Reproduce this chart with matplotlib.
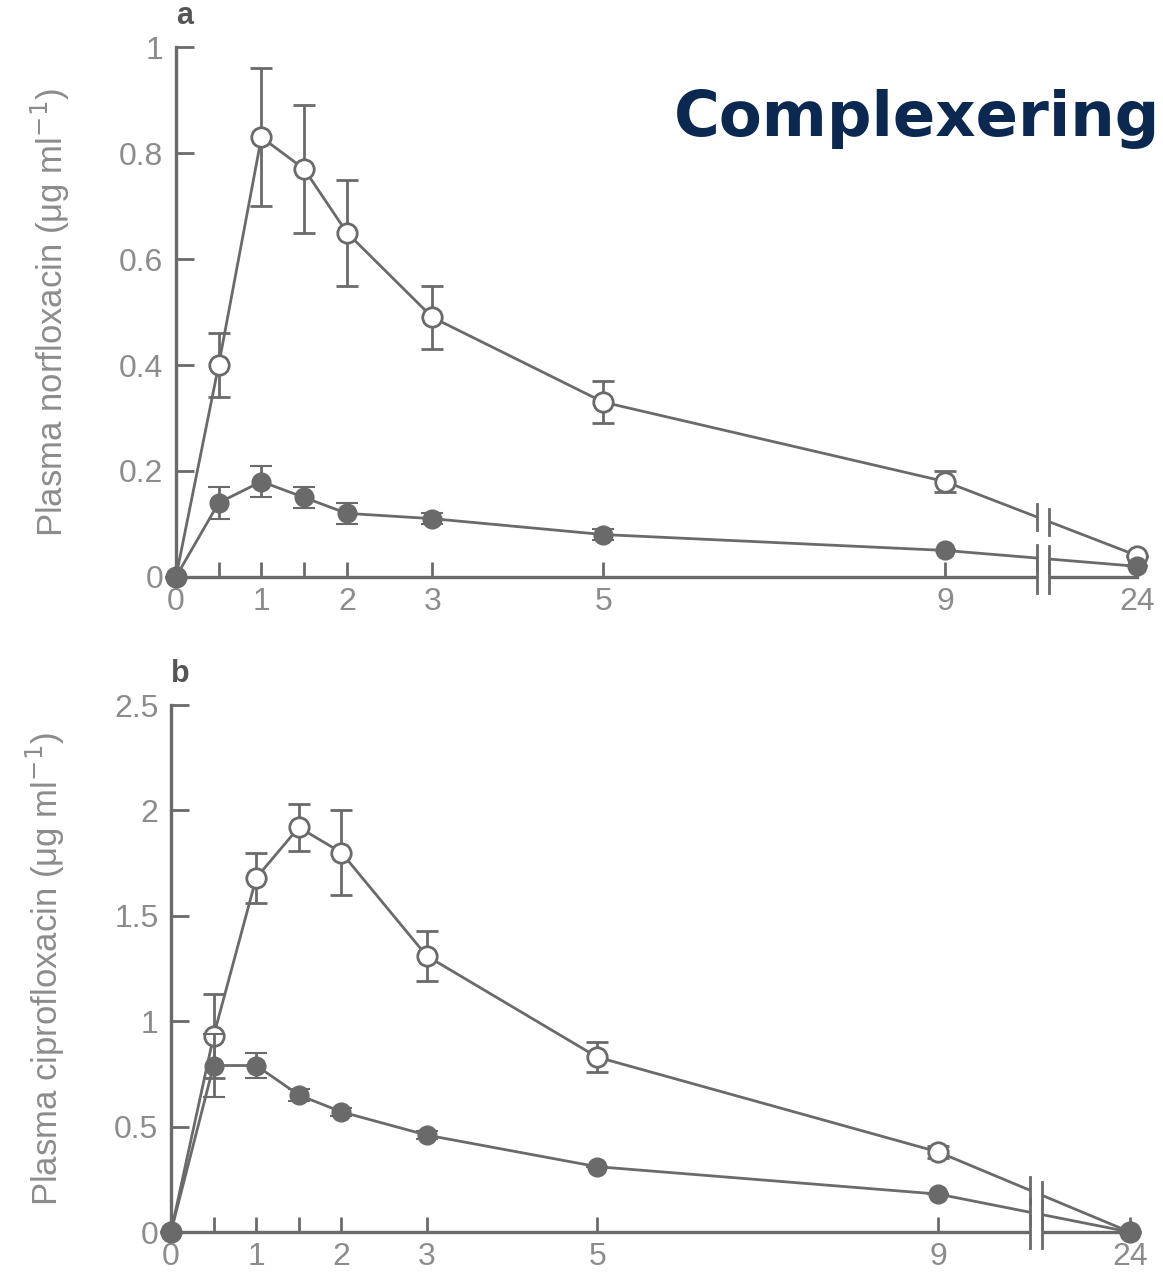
import matplotlib
matplotlib.use("Agg")
import matplotlib.pyplot as plt
import numpy as np

plt.rcParams['font.family'] = ['Liberation Sans', 'DejaVu Sans']

# sample times (h)
time = [0, 0.5, 1, 1.5, 2, 3, 5, 9, 24]
tick_times = [0, 0.5, 1, 1.5, 2, 3, 5, 9, 24]
tick_labels = ['0', '', '1', '', '2', '3', '5', '9', '24']

# panel a - norfloxacin
nor_open = [0, 0.40, 0.83, 0.77, 0.65, 0.49, 0.33, 0.18, 0.04]
nor_open_err = [0, 0.06, 0.13, 0.12, 0.10, 0.06, 0.04, 0.02, 0]
nor_fill = [0, 0.14, 0.18, 0.15, 0.12, 0.11, 0.08, 0.05, 0.02]
nor_fill_err = [0, 0.03, 0.03, 0.02, 0.02, 0.01, 0.01, 0, 0]

# panel b - ciprofloxacin
cip_open = [0, 0.93, 1.68, 1.92, 1.80, 1.31, 0.83, 0.38, 0]
cip_open_err = [0, 0.20, 0.12, 0.11, 0.20, 0.12, 0.07, 0.03, 0]
cip_fill = [0, 0.79, 0.79, 0.65, 0.57, 0.46, 0.31, 0.18, 0]
cip_fill_err = [0, 0.15, 0.06, 0.03, 0.02, 0.02, 0, 0, 0]

GRAY = '#6a6a6a'
TXT = '#8c8c8c'
POS24 = 11.25   # where the 24 h point sits after the axis break
XB = 10.15      # axis break position
GAP = 0.07


def xpos(t):
    t = np.asarray(t, dtype=float)
    return np.where(t > 9, POS24, t)


def draw_break(ax, xs, ys_list, yspan):
    # white gap + double bar on axis and on each curve
    for ys in ys_list:
        y1 = np.interp(XB - GAP, xs, ys)
        y2 = np.interp(XB + GAP, xs, ys)
        ax.plot([XB - GAP, XB + GAP], [y1, y2], color='white', lw=6,
                zorder=6, clip_on=False, solid_capstyle='butt')
        for xx, yy in [(XB - GAP, y1), (XB + GAP, y2)]:
            ax.plot([xx, xx], [yy - yspan, yy + yspan], color=GRAY, lw=2,
                    zorder=7, clip_on=False)
    ax.plot([XB - GAP, XB + GAP], [0, 0], color='white', lw=6, zorder=6,
            clip_on=False, solid_capstyle='butt')
    for xx in [XB - GAP, XB + GAP]:
        ax.plot([xx, xx], [-yspan * 1.2, yspan * 1.2], color=GRAY, lw=2,
                zorder=7, clip_on=False)


def panel(ax, yo, yoe, yf, yfe, ymax, yticks, ylabel, letter):
    xs = xpos(time)
    ax.errorbar(xs, yo, yerr=yoe, color=GRAY, lw=2, elinewidth=2,
                capsize=8, capthick=2, marker='o', ms=14, mfc='white',
                mec=GRAY, mew=2, zorder=4, clip_on=False)
    ax.errorbar(xs, yf, yerr=yfe, color=GRAY, lw=2, elinewidth=2,
                capsize=8, capthick=2, marker='o', ms=13, mfc=GRAY,
                mec=GRAY, mew=1.5, zorder=5, clip_on=False)
    draw_break(ax, xs, [yo, yf], ymax * 0.025)

    ax.set_xlim(0, POS24)
    ax.set_ylim(0, ymax)
    ax.set_xticks(xpos(tick_times))
    ax.set_xticklabels(tick_labels)
    ax.set_yticks(yticks)
    ax.set_yticklabels([('%g' % v) for v in yticks])
    for s in ['top', 'right']:
        ax.spines[s].set_visible(False)
    for s in ['left', 'bottom']:
        ax.spines[s].set_color(GRAY)
        ax.spines[s].set_linewidth(2.4)
    ax.tick_params(axis='both', direction='in', colors=GRAY, width=2,
                   labelcolor=TXT, labelsize=23)
    ax.tick_params(axis='y', length=13, pad=9)
    ax.tick_params(axis='x', length=11, pad=7)
    ax.set_ylabel(ylabel, fontsize=25, color=TXT, labelpad=34)
    ax.text(0.0, 1.03, letter, transform=ax.transAxes, fontsize=22,
            fontweight='bold', color='#555555', ha='left', va='bottom')


fig = plt.figure(figsize=(11.63, 12.75), dpi=100)
ax1 = fig.add_axes([0.1513, 0.5475, 0.978 - 0.1513, 0.963 - 0.5475])
ax2 = fig.add_axes([0.147, 0.0337, 0.9716 - 0.147, 0.447 - 0.0337])

panel(ax1, nor_open, nor_open_err, nor_fill, nor_fill_err, 1.0,
      [0, 0.2, 0.4, 0.6, 0.8, 1], r'Plasma norfloxacin ($\mathregular{\mu}$g ml$^{-1}$)', 'a')
panel(ax2, cip_open, cip_open_err, cip_fill, cip_fill_err, 2.5,
      [0, 0.5, 1, 1.5, 2, 2.5], r'Plasma ciprofloxacin ($\mathregular{\mu}$g ml$^{-1}$)', 'b')

fig.text(0.998, 0.907, 'Complexering', fontsize=45, fontweight='bold',
         color='#0b2850', ha='right', va='center', family='DejaVu Sans')

fig.savefig('out.png', dpi=100)
